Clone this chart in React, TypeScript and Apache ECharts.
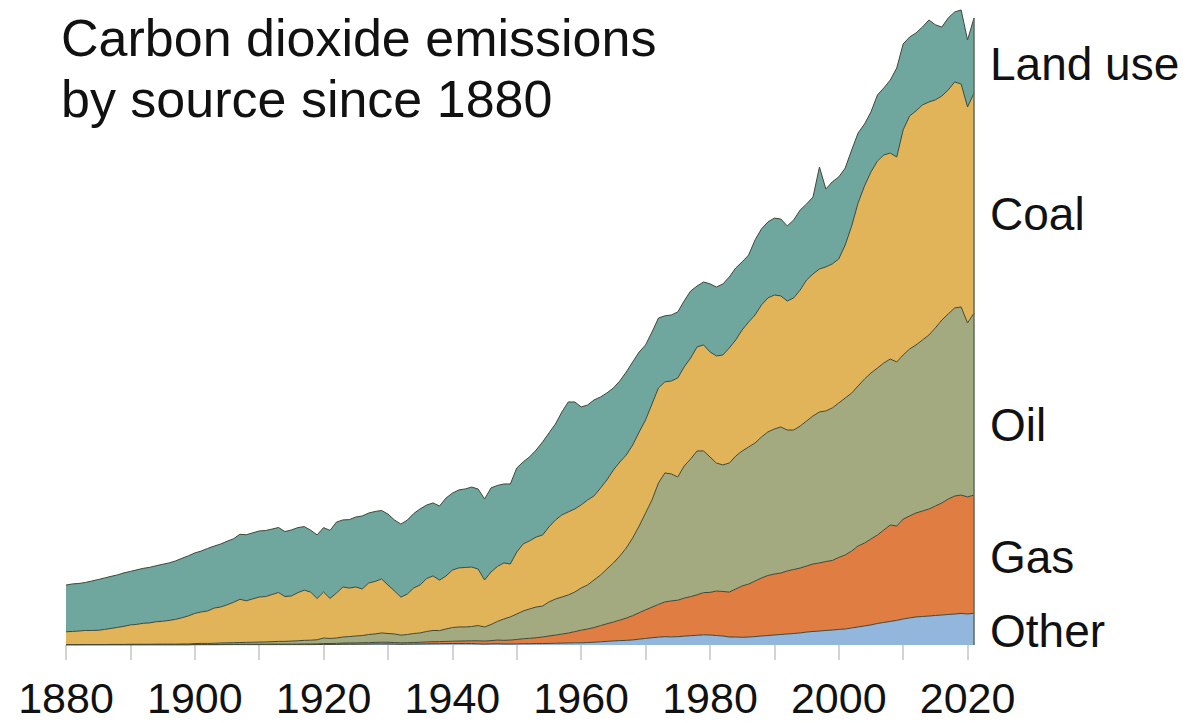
import React, { useEffect, useRef } from "react";
import * as echarts from "echarts";

const FIRST_YEAR = 1880;
const LAST_YEAR = 2021;
const years: string[] = [];
for (let y = FIRST_YEAR; y <= LAST_YEAR; y++) years.push(String(y));

const tickYears = ["1880","1890","1900","1910","1920","1930","1940","1950","1960","1970","1980","1990","2000","2010","2020"];
const labelYears = ["1880","1900","1920","1940","1960","1980","2000","2020"];

const titleLines = ["Carbon dioxide emissions", "by source since 1880"];

// GtCO2 per year, 1880-2021 (one row per decade)
const otherValues = [
  0,0,0,0,0,0,0,0,0,0,
  0,0,0,0,0,0,0,0,0,0,
  0.01,0.01,0.01,0.01,0.01,0.02,0.02,0.02,0.02,0.02,
  0.02,0.02,0.02,0.02,0.02,0.02,0.02,0.02,0.02,0.03,
  0.04,0.04,0.04,0.05,0.05,0.05,0.06,0.06,0.07,0.07,
  0.07,0.06,0.05,0.06,0.06,0.07,0.08,0.09,0.09,0.10,
  0.10,0.10,0.10,0.10,0.08,0.06,0.08,0.09,0.07,0.07,
  0.08,0.09,0.09,0.10,0.10,0.11,0.12,0.13,0.14,0.15,
  0.15,0.17,0.19,0.22,0.25,0.28,0.30,0.32,0.35,0.40,
  0.45,0.50,0.54,0.57,0.56,0.57,0.61,0.64,0.67,0.70,
  0.69,0.65,0.62,0.55,0.55,0.53,0.55,0.58,0.62,0.65,
  0.69,0.72,0.76,0.79,0.83,0.89,0.93,0.96,1.00,1.03,
  1.07,1.10,1.17,1.24,1.31,1.38,1.48,1.55,1.62,1.69,
  1.79,1.86,1.93,1.96,1.99,2.03,2.06,2.10,2.13,2.17,
  2.13,2.18,
];

const gasValues = [
  0.01,0.01,0.01,0.01,0.01,0.01,0.01,0.01,0.01,0.01,
  0.01,0.01,0.01,0.01,0.01,0.01,0.01,0.01,0.01,0.01,
  0.02,0.02,0.02,0.02,0.03,0.03,0.03,0.03,0.03,0.03,
  0.03,0.03,0.04,0.04,0.04,0.04,0.04,0.05,0.05,0.05,
  0.06,0.06,0.07,0.08,0.09,0.09,0.10,0.10,0.11,0.12,
  0.12,0.11,0.10,0.10,0.11,0.12,0.13,0.14,0.14,0.15,
  0.16,0.17,0.18,0.19,0.21,0.21,0.22,0.25,0.25,0.27,
  0.30,0.34,0.37,0.40,0.45,0.51,0.56,0.62,0.68,0.77,
  0.87,0.93,1.01,1.11,1.21,1.30,1.41,1.53,1.67,1.82,
  1.97,2.10,2.25,2.39,2.47,2.51,2.61,2.69,2.78,2.90,
  2.93,3.06,3.06,3.09,3.30,3.53,3.64,3.82,3.99,4.13,
  4.19,4.23,4.33,4.40,4.46,4.54,4.64,4.68,4.74,4.78,
  4.95,5.09,5.29,5.57,5.70,5.91,6.08,6.36,6.63,6.49,
  6.87,7.01,7.15,7.25,7.36,7.53,7.70,7.94,8.11,8.14,
  8.05,8.13,
];

const oilValues = [
  0.01,0.01,0.01,0.02,0.02,0.02,0.02,0.03,0.03,0.03,
  0.04,0.04,0.04,0.04,0.05,0.05,0.05,0.05,0.06,0.06,
  0.07,0.08,0.08,0.09,0.10,0.10,0.11,0.12,0.13,0.14,
  0.15,0.16,0.17,0.19,0.19,0.21,0.23,0.25,0.26,0.28,
  0.38,0.35,0.37,0.42,0.44,0.48,0.49,0.56,0.58,0.64,
  0.60,0.59,0.53,0.56,0.62,0.64,0.72,0.77,0.76,0.85,
  0.94,0.97,0.96,0.98,1.05,0.97,1.11,1.28,1.47,1.59,
  1.75,1.91,2.02,2.11,2.13,2.34,2.48,2.55,2.62,2.72,
  2.90,3.03,3.27,3.48,3.77,4.06,4.41,4.82,5.34,5.96,
  6.66,7.37,8.35,8.87,8.73,8.47,9.09,9.46,9.89,9.74,
  9.31,8.80,8.70,8.87,9.14,9.28,9.42,9.49,9.69,9.87,
  9.97,10.04,9.69,9.59,9.76,9.97,10.18,10.38,10.35,10.49,
  10.62,10.79,10.86,11.00,11.28,11.41,11.48,11.48,11.41,11.28,
  11.28,11.48,11.55,11.76,11.96,12.24,12.58,12.72,12.93,12.93,
  11.96,12.51,
];

const coalValues = [
  0.89,0.91,0.94,0.97,0.97,0.98,1.04,1.10,1.17,1.24,
  1.33,1.37,1.44,1.47,1.54,1.57,1.63,1.70,1.80,1.93,
  2.07,2.16,2.23,2.42,2.47,2.61,2.77,2.97,2.86,2.98,
  3.10,3.12,3.24,3.36,3.08,3.10,3.31,3.45,3.30,2.84,
  3.16,2.75,3.09,3.44,3.33,3.37,3.20,3.54,3.61,3.71,
  3.33,2.96,2.61,2.78,3.13,3.30,3.64,3.75,3.47,3.64,
  3.95,4.06,4.09,4.09,3.88,3.23,3.61,3.78,3.85,3.64,
  4.26,4.61,4.68,4.81,4.88,5.16,5.43,5.64,5.71,5.71,
  5.71,5.84,5.78,5.98,6.12,6.39,6.46,6.39,6.39,6.46,
  6.39,6.60,6.53,6.26,6.39,6.81,6.81,6.94,7.15,7.29,
  7.22,7.36,7.56,7.91,7.98,8.32,8.59,8.80,9.08,9.21,
  9.21,9.01,8.87,9.08,9.35,9.69,9.76,9.83,9.90,9.90,
  9.90,10.52,11.48,12.58,13.27,13.82,14.23,14.30,14.16,14.09,
  15.47,16.02,16.09,16.16,16.02,15.68,15.40,15.40,15.54,15.33,
  14.85,15.13,
];

const landUseValues = [
  3.21,3.27,3.27,3.30,3.40,3.49,3.54,3.58,3.61,3.68,
  3.68,3.75,3.78,3.82,3.85,3.92,3.95,4.02,4.09,4.13,
  4.16,4.19,4.30,4.26,4.33,4.37,4.37,4.47,4.54,4.54,
  4.54,4.54,4.50,4.47,4.47,4.54,4.47,4.37,4.26,4.37,
  4.43,4.68,4.88,4.61,4.71,4.81,5.02,4.81,4.81,4.71,
  4.88,4.88,5.02,5.09,5.12,5.23,5.05,5.02,5.09,5.36,
  5.29,5.36,5.40,5.50,5.50,5.57,5.78,5.57,5.43,5.50,
  5.78,5.64,5.78,5.98,6.39,6.46,6.60,7.08,7.56,7.36,
  6.74,6.53,6.60,6.26,5.98,5.64,5.57,5.71,5.71,5.50,
  5.16,4.95,4.81,4.54,4.54,4.54,4.54,4.61,4.19,4.33,
  4.68,4.74,4.88,4.88,4.95,4.68,4.61,5.16,5.23,5.23,
  5.29,5.29,5.16,5.36,5.50,5.23,5.29,7.01,5.36,5.64,
  5.64,5.29,5.23,4.81,4.26,4.13,4.54,4.61,5.02,6.12,
  5.91,5.43,5.36,5.36,5.64,5.16,4.74,4.95,4.81,5.09,
  4.61,5.16,
];

const seriesNames = ["Other", "Gas", "Oil", "Coal", "Land use"];
const seriesColors = ["#93b6dd", "#e07d42", "#a4aa80", "#e2b45a", "#6fa69d"];
const seriesValues = [otherValues, gasValues, oilValues, coalValues, landUseValues];

const FONT = '"Liberation Sans", Arial, Helvetica, sans-serif';

export default function App() {
  const ref = useRef<HTMLDivElement>(null);

  useEffect(() => {
    if (!ref.current) return;
    const chart = echarts.init(ref.current, undefined, { renderer: "svg" });
    const n = years.length;
    const lastIdx = n - 1;
    const lastTotal = seriesValues.reduce((s, arr) => s + arr[lastIdx], 0);

    const stackSeries = seriesNames.map((name, i) => ({
      name,
      type: "line",
      stack: "total",
      data: seriesValues[i].slice(0, n),
      showSymbol: false,
      symbol: "none",
      smooth: false,
      lineStyle: { color: "#3e4838", width: 1 },
      areaStyle: { color: seriesColors[i], opacity: 1 },
      itemStyle: { color: seriesColors[i] },
      emphasis: { disabled: true },
      z: 2,
    }));

    // right-hand edge line of the stack
    const edgeSeries = {
      type: "custom",
      data: [[lastIdx, lastTotal]],
      z: 3,
      silent: true,
      renderItem: (_p: any, api: any) => {
        const top = api.coord([api.value(0), api.value(1)]);
        const bottom = api.coord([api.value(0), 0]);
        return {
          type: "line",
          shape: { x1: top[0], y1: top[1], x2: bottom[0], y2: bottom[1] },
          style: { stroke: "#5d6a5a", lineWidth: 1.5 },
        };
      },
    };

    // label positions beside the stack
    const sideLabels = [
      { text: "Land use", y: 64 },
      { text: "Coal", y: 214 },
      { text: "Oil", y: 425 },
      { text: "Gas", y: 557 },
      { text: "Other", y: 631 },
    ];

    chart.setOption({
      animation: false,
      backgroundColor: "#ffffff",
      grid: {
        left: 66,
        right: 214,
        top: 5,
        bottom: 78,
        containLabel: false,
        outerBoundsMode: "none",
      },
      xAxis: {
        type: "category",
        data: years,
        boundaryGap: false,
        axisLine: { show: false },
        axisTick: {
          show: true,
          length: 15,
          interval: (_i: number, v: string) => tickYears.includes(v),
          lineStyle: { color: "#c4c4c4", width: 1.5 },
        },
        axisLabel: {
          show: true,
          interval: (_i: number, v: string) => labelYears.includes(v),
          margin: 35,
          fontSize: 43,
          lineHeight: 36,
          color: "#111111",
          fontFamily: FONT,
        },
        splitLine: { show: false },
      },
      yAxis: {
        type: "value",
        min: 0,
        max: 44,
        show: false,
        splitLine: { show: false },
      },
      series: [...stackSeries, edgeSeries],
      graphic: [
        ...titleLines.map((t, i) => ({
          type: "text",
          left: 61,
          top: 12 + i * 61,
          style: {
            text: t,
            fontSize: 52,
            fontFamily: FONT,
            fill: "#111111",
          },
        })),
        ...sideLabels.map((l) => ({
          type: "text",
          x: 990,
          y: l.y,
          style: {
            text: l.text,
            fontSize: 46,
            fontFamily: FONT,
            fill: "#111111",
            verticalAlign: "middle",
            align: "left",
          },
        })),
      ],
    });

    return () => chart.dispose();
  }, []);

  return (
    <div
      ref={ref}
      style={{ position: "absolute", left: 0, top: 0, width: 1188, height: 723 }}
    />
  );
}
